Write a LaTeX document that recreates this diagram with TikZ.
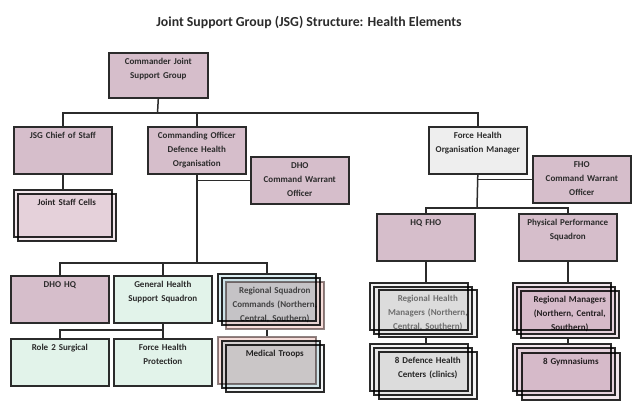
\documentclass[tikz,border=0pt]{standalone}
\usepackage{fontspec}
\setmainfont{Carlito}
\usepackage{tikz}
\usetikzlibrary{positioning,backgrounds}

\definecolor{mauve}{HTML}{D6BECB}
\definecolor{mint}{HTML}{E2F3EA}
\definecolor{lgray}{HTML}{EEEEEE}
\definecolor{sgray}{HTML}{F3F3F3}
\definecolor{smauve}{HTML}{F1E6EC}
\definecolor{lmauve}{HTML}{F2E7EC}
\definecolor{sblue}{HTML}{DCEEF2}
\definecolor{sslate}{HTML}{EEF2F4}
\definecolor{spink}{HTML}{F6DEDB}
\definecolor{sgrey}{HTML}{F3F5F6}
\definecolor{ink}{HTML}{2B2B2B}

\begin{document}
\begin{tikzpicture}
          [x=1pt,y=-1pt,line join=miter]
          \tikzstyle{box}=[draw=ink,line width=1.6pt,anchor=north west,
            minimum width=98pt,minimum height=47pt,inner xsep=3pt,inner ysep=3.5pt,
            text width=92pt,align=center,text height=8pt,text depth=32pt,
            font=\fontsize{9}{14}\selectfont\bfseries,text=ink]
          \tikzstyle{layer}=[box]
          \tikzstyle{link}=[draw=ink,line width=1.5pt]

          \useasboundingbox (0,0) rectangle (640,413);

          \node[font=\fontsize{13.8}{16}\selectfont\bfseries,text=ink] (title) at (309,22)
            {Joint Support Group (JSG) Structure: Health Elements};

          % command level
          \node[box,fill=mauve,minimum width=99pt,minimum height=45pt,text depth=30pt] (cjsg) at (108,52)
            {Commander Joint\\Support Group};
          \node[box,fill=mauve] (cos) at (13,126) {JSG Chief of Staff};
          \node[box,fill=mauve] (codho) at (147,126) {Commanding Officer\\Defence Health\\Organisation};
          \node[box,fill=mauve] (dhocwo) at (250,156) {DHO\\Command Warrant\\Officer};
          \node[box,fill=lgray] (fhom) at (428,126) {Force Health\\Organisation Manager};
          \node[box,fill=mauve] (fhocwo) at (532,155) {FHO\\Command Warrant\\Officer};

          % DHO branch
          \node[box,fill=mauve] (dhohq) at (10,275) {DHO HQ};
          \node[box,fill=mint] (ghss) at (113,275) {General Health\\Support Squadron};
          \node[box,fill=mint] (r2s) at (10,338) {Role 2 Surgical};
          \node[box,fill=mint] (fhp) at (113,338) {Force Health\\Protection};

          % FHO branch
          \node[box,fill=mauve] (hqfho) at (376,213) {HQ FHO};
          \node[box,fill=mauve] (pps) at (518,213) {Physical Performance\\Squadron};

          % stacked boxes
          \begin{scope}[blend mode=multiply]
            \node[layer,fill=lmauve] (jsc) at (13,189) {};
            \node[layer,fill=lmauve] (jsc2) at (17,193) {Joint Staff Cells};

            \node[layer,fill=sblue] (rsc) at (217,273) {};
            \node[layer,fill=sslate] (rsc2) at (221,277) {};
            \node[layer,fill=spink,draw=spink!50!ink,text=ink!80] (rsc3) at (225,281)
              {Regional Squadron\\Commands (Northern,\\Central, Southern)};

            \node[layer,fill=spink,draw=spink!50!ink] (mt) at (217,336) {};
            \node[layer,fill=sblue] (mt2) at (221,340) {};
            \node[layer,fill=sgrey] (mt3) at (225,344) {Medical Troops};

            \node[layer,fill=sgray] (rhm) at (369,282) {};
            \node[layer,fill=sgray] (rhm2) at (373,286) {};
            \node[layer,fill=sgray,text=gray] (rhm3) at (378,289)
              {Regional Health\\Managers (Northern,\\Central, Southern)};

            \node[layer,fill=sgray] (dhc) at (369,343) {};
            \node[layer,fill=sgray] (dhc2) at (373,347) {};
            \node[layer,fill=sgray] (dhc3) at (378,351) {8 Defence Health\\Centers (clinics)};

            \node[layer,fill=smauve] (rm) at (512,282) {};
            \node[layer,fill=smauve] (rm2) at (516,286) {};
            \node[layer,fill=smauve] (rm3) at (520,290) {Regional Managers\\(Northern, Central,\\Southern)};

            \node[layer,fill=smauve] (gym) at (512,343) {};
            \node[layer,fill=smauve] (gym2) at (516,347) {};
            \node[layer,fill=smauve] (gym3) at (521,352) {8 Gymnasiums};
          \end{scope}

          \coordinate (bus1) at (157.5,113);
          \coordinate (bus2) at (196,263);
          \coordinate (bus3) at (162,330);
          \coordinate (bus4) at (477,208);

          \begin{scope}[on background layer]
            \draw[link] (cjsg.south) -- (bus1);
            \draw[link] (cos.north) |- (bus1) -| (fhom.north);
            \draw[link] (codho.north) -- (codho.north |- bus1);
            \draw[link] (cos.south) -- (jsc.north);

            \draw[link] (codho.south) -- (codho.south |- bus2);
            \draw[link] (codho.south |- dhocwo.west) -- (dhocwo.west);
            \draw[link] (dhohq.north) |- (bus2) -| (rsc.north);
            \draw[link] (ghss.north) -- (ghss.north |- bus2);
            \draw[link] (ghss.south) -- (fhp.north);
            \draw[link] (r2s.north) |- (bus3);
            \draw[link] (rsc3.south -| rsc.south) -- (mt.north);

            \draw[link] (fhom.south) -- (bus4);
            \draw[link] (fhom.south |- fhocwo.west) -- (fhocwo.west);
            \draw[link] (hqfho.north) |- (bus4) -| (pps.north);
            \draw[link] (hqfho.south) -- (hqfho.south |- rhm.north);
            \draw[link] (rhm3.south -| hqfho.south) -- (hqfho.south |- dhc.north);
            \draw[link] (pps.south) -- (pps.south |- rm.north);
            \draw[link] (rm3.south -| pps.south) -- (pps.south |- gym.north);
          \end{scope}
        \end{tikzpicture}
\end{document}
